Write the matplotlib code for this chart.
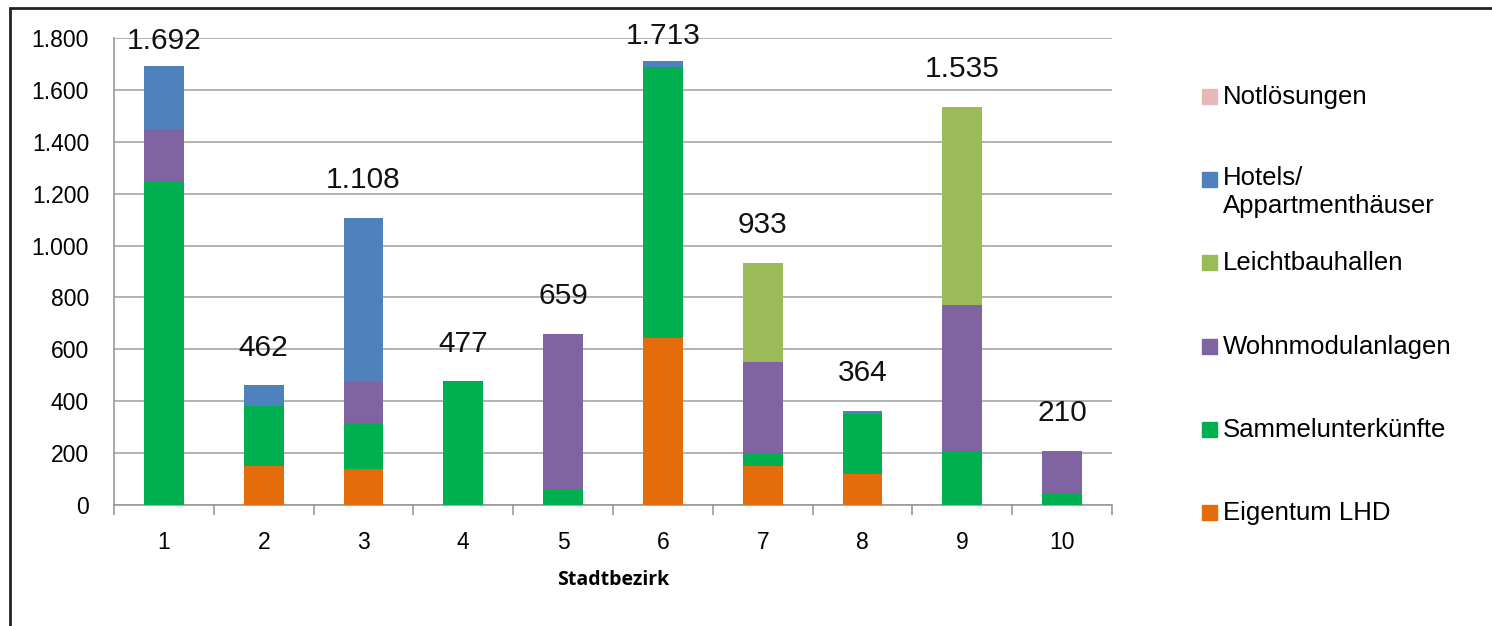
import numpy as np
import matplotlib
matplotlib.use("Agg")
import matplotlib.pyplot as plt
from matplotlib.patches import Rectangle

plt.rcParams["font.family"] = ["Liberation Sans", "DejaVu Sans"]

# ===== data =====
bezirke = ["1", "2", "3", "4", "5", "6", "7", "8", "9", "10"]
eigentum_lhd = [0, 150, 137, 0, 0, 643, 150, 119, 0, 0]
sammelunterkuenfte = [1250, 230, 180, 477, 58, 1047, 52, 232, 208, 48]
wohnmodulanlagen = [200, 0, 158, 0, 601, 0, 348, 0, 562, 162]
leichtbauhallen = [0, 0, 0, 0, 0, 0, 383, 0, 765, 0]
hotels = [242, 82, 633, 0, 0, 23, 0, 13, 0, 0]
notloesungen = [0, 0, 0, 0, 0, 0, 0, 0, 0, 0]

series_names = ["Eigentum LHD", "Sammelunterkünfte", "Wohnmodulanlagen",
                "Leichtbauhallen", "Hotels/\nAppartmenthäuser", "Notlösungen"]
series = [eigentum_lhd, sammelunterkuenfte, wohnmodulanlagen,
          leichtbauhallen, hotels, notloesungen]
colors = ["#E46C0A", "#00B050", "#8064A2", "#9BBB59", "#4F81BD", "#E6B9B8"]

W, H = 1492, 626
fig = plt.figure(figsize=(W / 100, H / 100), dpi=100)


def px(x, y):
    # pixel coords (top-left origin) -> figure fraction
    return x / W, 1 - y / H


# outer frame
fig.patches.append(Rectangle(px(10, 640), (1500 - 10) / W, (640 - 8) / H,
                             transform=fig.transFigure, fill=False,
                             edgecolor="#222222", linewidth=2))

left, bottom = px(114, 505)
right, top = px(1112, 38)
ax = fig.add_axes([left, bottom, right - left, top - bottom])

x = np.arange(1, len(bezirke) + 1)
bottoms = np.zeros(len(bezirke))
for vals, c in zip(series, colors):
    vals = np.array(vals, dtype=float)
    ax.bar(x, vals, width=0.4, bottom=bottoms, color=c, zorder=3)
    bottoms += vals

totals = bottoms
for xi, t in zip(x, totals):
    yl = t + 145 if t < 1600 else t + 95
    lbl = f"{int(t):,}".replace(",", ".")
    ax.text(xi, yl, lbl, ha="center", va="center", fontsize=21.5, color="#111111")

ax.set_xlim(0.5, len(bezirke) + 0.5)
ax.set_ylim(0, 1800)
ax.set_yticks(np.arange(0, 1801, 200))
ax.set_yticklabels([f"{v:,}".replace(",", ".") for v in range(0, 1801, 200)])
ax.set_xticks(x)
ax.set_xticklabels(bezirke)
ax.set_xticks(np.arange(0.5, len(bezirke) + 1, 1), minor=True)
ax.tick_params(axis="x", which="major", length=0, pad=19, labelsize=16.5)
ax.tick_params(axis="x", which="minor", length=7, width=1.2, color="#999999")
ax.tick_params(axis="y", which="major", length=0, pad=18, labelsize=16.5)
ax.yaxis.grid(True, color="#A6A6A6", linewidth=1.2, zorder=0)
ax.set_axisbelow(True)
for s in ["top", "right"]:
    ax.spines[s].set_visible(False)
for s in ["left", "bottom"]:
    ax.spines[s].set_color("#999999")
    ax.spines[s].set_linewidth(1.2)

fig.text(*px(613, 580), "Stadtbezirk", ha="center", va="center",
         fontsize=14, fontweight="bold", family=["Open Sans", "DejaVu Sans"])

# legend (reverse order, like the original)
for i, (name, c) in enumerate(zip(series_names[::-1], colors[::-1])):
    yc = 97 + i * 83.2
    fig.patches.append(Rectangle(px(1202, yc + 7), 15 / W, 15 / H,
                                 transform=fig.transFigure, color=c))
    if "\n" in name:
        fig.text(*px(1223, yc - 14), name, ha="left", va="top",
                 fontsize=18.5, linespacing=1.2)
    else:
        fig.text(*px(1223, yc), name, ha="left", va="center", fontsize=18.5)

fig.savefig("out.png", dpi=100)
